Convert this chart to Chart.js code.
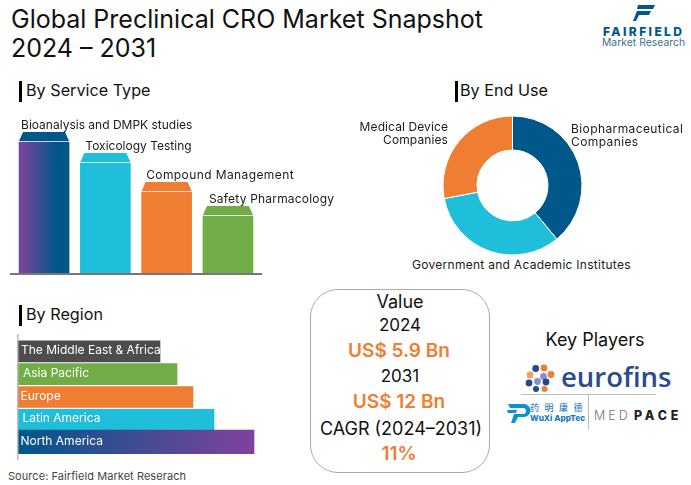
<!DOCTYPE html>
<html>
<head>
<meta charset="utf-8">
<script src="https://cdn.jsdelivr.net/npm/chart.js@4"></script>
<style>
    html, body { margin: 0; padding: 0; background: #fff; }
    #page { position: relative; width: 691px; height: 485px; overflow: hidden; font-family: Inter, sans-serif; color: #111; }
    #page canvas { position: absolute; }
    .t { position: absolute; white-space: nowrap; line-height: 1; }
    .c { transform: translateX(-50%); }
    .head { font-size: 16.2px; }
    .tick { position: absolute; width: 3px; height: 21px; background: #000; }
    .lbl { font-size: 12px; letter-spacing: 0.1px; color: #1a1a1a; line-height: 13px; }
    .org { color: #ef7d32; font-weight: 600; font-size: 19px; }
    #box { position: absolute; left: 310px; top: 289px; width: 178px; height: 182px; border: 1px solid #aaa; border-radius: 28px; }
</style>
</head>
<body>
<div id="page">
    <div class="t" style="left:11px;top:5px;font-size:25px;line-height:29px">Global Preclinical CRO Market Snapshot<br>2024 – 2031</div>

    <!-- Fairfield logo -->
    <svg style="position:absolute;left:630px;top:2px" width="30" height="22">
        <path d="M8 3h17l-2 4H7zM7 9h14l-2 4H9l-3 6H3z" fill="#01568a"/>
    </svg>
    <div class="t" style="left:603px;top:26px;font-size:12px;font-weight:800;letter-spacing:2.4px;color:#01568a">FAIRFIELD</div>
    <div class="t" style="left:602px;top:37px;font-size:10.3px;letter-spacing:0.05px;color:#44708f">Market Research</div>

    <div class="tick" style="left:19px;top:81px"></div>
    <div class="t head" style="left:26px;top:82px">By Service Type</div>
    <div class="tick" style="left:455px;top:81px"></div>
    <div class="t head" style="left:460px;top:82px">By End Use</div>
    <div class="tick" style="left:19px;top:305px"></div>
    <div class="t head" style="left:26px;top:306px">By Region</div>

    <canvas id="service-chart" style="left:10px;top:116px"></canvas>
    <canvas id="enduse-chart" style="left:442px;top:115px"></canvas>
    <canvas id="region-chart" style="left:17px;top:334px"></canvas>

    <div class="t lbl" style="right:243px;top:120px;text-align:right" id="lbl-medical"></div>
    <div class="t lbl" style="left:571px;top:122px;letter-spacing:0.4px" id="lbl-bio"></div>
    <div class="t lbl" style="left:412px;top:258px;letter-spacing:0.28px" id="lbl-gov"></div>

    <div id="box"></div>
    <div class="t c" style="left:400px;top:293px;font-size:18px">Value</div>
    <div class="t c" style="left:400px;top:317px;font-size:17px">2024</div>
    <div class="t c org" style="left:399px;top:341px">US$ 5.9 Bn</div>
    <div class="t c" style="left:400px;top:368px;font-size:17px">2031</div>
    <div class="t c org" style="left:399px;top:392px">US$ 12 Bn</div>
    <div class="t c" style="left:401px;top:420px;font-size:18px">CAGR (2024–2031)</div>
    <div class="t c org" style="left:399px;top:444px">11%</div>

    <div class="t c" style="left:595px;top:331px;font-size:18px">Key Players</div>

    <!-- eurofins logo -->
    <svg style="position:absolute;left:525px;top:364px" width="32" height="28">
        <circle cx="10.7" cy="4.5" r="3.4" fill="#234a8c"/>
        <circle cx="19" cy="4" r="3.4" fill="#ef7d32"/>
        <circle cx="5" cy="11" r="3.4" fill="#f3a05f"/>
        <circle cx="18.5" cy="12.5" r="3.4" fill="#8d8fc4"/>
        <circle cx="26" cy="10.5" r="3.4" fill="#ef7d32"/>
        <circle cx="4" cy="19" r="3.4" fill="#234a8c"/>
        <circle cx="12.5" cy="17.5" r="3.4" fill="#8d8fc4"/>
        <circle cx="21" cy="18" r="3.4" fill="#234a8c"/>
        <circle cx="11" cy="25" r="3" fill="#234a8c"/>
        <circle cx="19.5" cy="25" r="3" fill="#ef7d32"/>
    </svg>
    <div class="t" style="left:561px;top:363px;font-size:27.5px;font-family:'Open Sans',sans-serif;font-weight:600;color:#2b4a8f">eurofins</div>
    <div style="position:absolute;left:521px;top:394px;width:135px;height:1px;background:#bbb"></div>
    <div style="position:absolute;left:588px;top:394px;width:1px;height:36px;background:#bbb"></div>

    <!-- WuXi AppTec logo -->
    <svg style="position:absolute;left:507px;top:402px" width="24" height="22">
        <path d="M1 2h16a6 6 0 0 1 0 13h-6l-3 6H4l3-9h9a2.5 2.5 0 0 0 0-6H3zM0 8h10l-1 3H1z" fill="#0f8fd6"/>
    </svg>
    <div class="t" style="left:530px;top:403px;font-size:9px;letter-spacing:5.5px;font-family:'Noto Sans CJK SC',sans-serif;color:#0f6fb5">药明康德</div>
    <div class="t" style="left:530px;top:414px;font-size:8.2px;font-weight:800;color:#1577c4">WuXi AppTec</div>
    <div class="t" style="left:594px;top:410px;font-size:12.5px;font-weight:300;letter-spacing:3px;color:#777">MED</div>
    <div class="t" style="left:634px;top:410px;font-size:12.5px;font-weight:800;letter-spacing:3.8px;color:#222">PACE</div>

    <div class="t" style="left:8px;top:471px;font-size:11px;letter-spacing:0.06px;color:#444">Source: Fairfield Market Reserach</div>
</div>

<script>
// Values (no axis in the original, so units are relative)
const serviceTypes = ['Bioanalysis and DMPK studies', 'Toxicology Testing', 'Compound Management', 'Safety Pharmacology'];
const serviceValues = [131, 110, 81, 57];

const endUseTypes = ['Biopharmaceutical Companies', 'Government and Academic Institutes', 'Medical Device Companies'];
const endUseValues = [39, 33, 28];

const regions = ['The Middle East & Africa', 'Asia Pacific', 'Europe', 'Latin America', 'North America'];
const regionValues = [142, 159, 175, 196, 236];

const NAVY = '#01568a';
const PURPLE = '#7f429d';
const CYAN = '#1fbfdc';
const ORANGE = '#ef7d32';
const GREEN = '#70ad47';
const GREY = '#4d4d4d';

Chart.defaults.animation = false;
Chart.defaults.responsive = false;
Chart.defaults.plugins.legend.display = false;
Chart.defaults.plugins.tooltip.enabled = false;
Chart.defaults.font.family = 'Inter, sans-serif';

function sizeCanvas(id, w, h) {
    const canvas = document.getElementById(id);
    canvas.width = w;
    canvas.height = h;
    canvas.style.width = w + 'px';
    canvas.style.height = h + 'px';
    return canvas.getContext('2d');
}

// Service type columns
const serviceColors = [NAVY, CYAN, ORANGE, GREEN];
const serviceLabelShift = [2, 5, 4.5, 6];
const serviceLabelSpacing = ['0px', '0px', '0.4px', '0.2px'];

const serviceExtras = {
    id: 'serviceExtras',
    afterDatasetsDraw(chart) {
        const ctx = chart.ctx;
        const bars = chart.getDatasetMeta(0).data;
        ctx.save();

        bars.forEach((bar, i) => {
            // Flat roof sitting on each column
            const left = bar.x - bar.width / 2;
            const right = bar.x + bar.width / 2;
            ctx.fillStyle = serviceColors[i];
            ctx.beginPath();
            ctx.moveTo(left, bar.y - 1);
            ctx.lineTo(right, bar.y - 1);
            ctx.lineTo(right - 4, bar.y - 10);
            ctx.lineTo(left + 4, bar.y - 10);
            ctx.closePath();
            ctx.fill();

            ctx.fillStyle = '#1a1a1a';
            ctx.font = '12px Inter, sans-serif';
            ctx.letterSpacing = serviceLabelSpacing[i];
            ctx.textBaseline = 'middle';
            ctx.fillText(serviceTypes[i], left + serviceLabelShift[i], bar.y - 17);
        });

        // Baseline runs a little past the first and last column
        ctx.fillStyle = '#777';
        ctx.fillRect(0, chart.chartArea.bottom, 252, 2);
        ctx.restore();
    }
};

new Chart(sizeCanvas('service-chart', 330, 160), {
    type: 'bar',
    data: {
        labels: serviceTypes,
        datasets: [{
            data: serviceValues,
            barThickness: 50,
            backgroundColor(c) {
                if (c.dataIndex !== 0 || !c.chart.chartArea) return serviceColors[c.dataIndex];
                const x = c.chart.scales.x.getPixelForValue(0);
                const g = c.chart.ctx.createLinearGradient(x - 25, 0, x + 25, 0);
                g.addColorStop(0, PURPLE);
                g.addColorStop(0.75, NAVY);
                return g;
            }
        }]
    },
    options: {
        layout: { padding: { left: 3.4, right: 81.4, top: 5, bottom: 3 } },
        scales: {
            x: { display: false },
            y: { display: false, min: 0, max: 152 }
        }
    },
    plugins: [serviceExtras]
});

// End use doughnut
new Chart(sizeCanvas('enduse-chart', 141, 141), {
    type: 'doughnut',
    data: {
        labels: endUseTypes,
        datasets: [{
            data: endUseValues,
            backgroundColor: [NAVY, CYAN, ORANGE],
            borderColor: '#fff',
            borderWidth: 1
        }]
    },
    options: {
        cutout: '51%',
        layout: { padding: 0.5 }
    }
});

document.getElementById('lbl-bio').innerHTML = 'Biopharmaceutical<br>Companies';
document.getElementById('lbl-gov').textContent = endUseTypes[1];
document.getElementById('lbl-medical').innerHTML = 'Medical Device<br>Companies';

// Region bars
const regionColors = [GREY, GREEN, ORANGE, CYAN, NAVY];
const regionLabelShift = [3, 5, 2.5, 4.5, 2.5];

const regionExtras = {
    id: 'regionExtras',
    afterDatasetsUpdate(chart) {
        // Bottom bar is a bit taller than the others in the original
        chart.getDatasetMeta(0).data[4].height = 25;
    },
    afterDatasetsDraw(chart) {
        const ctx = chart.ctx;
        ctx.save();
        ctx.fillStyle = '#bbb';
        ctx.fillRect(0, 0, 1.5, 126);
        chart.getDatasetMeta(0).data.forEach((bar, i) => {
            ctx.fillStyle = '#fff';
            ctx.font = '12px Inter, sans-serif';
            ctx.textBaseline = 'middle';
            ctx.fillText(regions[i], chart.chartArea.left + regionLabelShift[i], bar.y - 1);
        });
        ctx.restore();
    }
};

new Chart(sizeCanvas('region-chart', 250, 126), {
    type: 'bar',
    data: {
        labels: regions,
        datasets: [{
            data: regionValues,
            barThickness: 21,
            backgroundColor(c) {
                if (c.dataIndex !== 4 || !c.chart.chartArea) return regionColors[c.dataIndex];
                const scale = c.chart.scales.x;
                const g = c.chart.ctx.createLinearGradient(scale.getPixelForValue(0), 0, scale.getPixelForValue(c.raw), 0);
                g.addColorStop(0, NAVY);
                g.addColorStop(1, PURPLE);
                return g;
            }
        }]
    },
    options: {
        indexAxis: 'y',
        layout: { padding: { left: 1, right: 9, top: 6, bottom: 6 } },
        scales: {
            x: { display: false, min: 0, max: 240 },
            y: { display: false }
        }
    },
    plugins: [regionExtras]
});
</script>
</body>
</html>
